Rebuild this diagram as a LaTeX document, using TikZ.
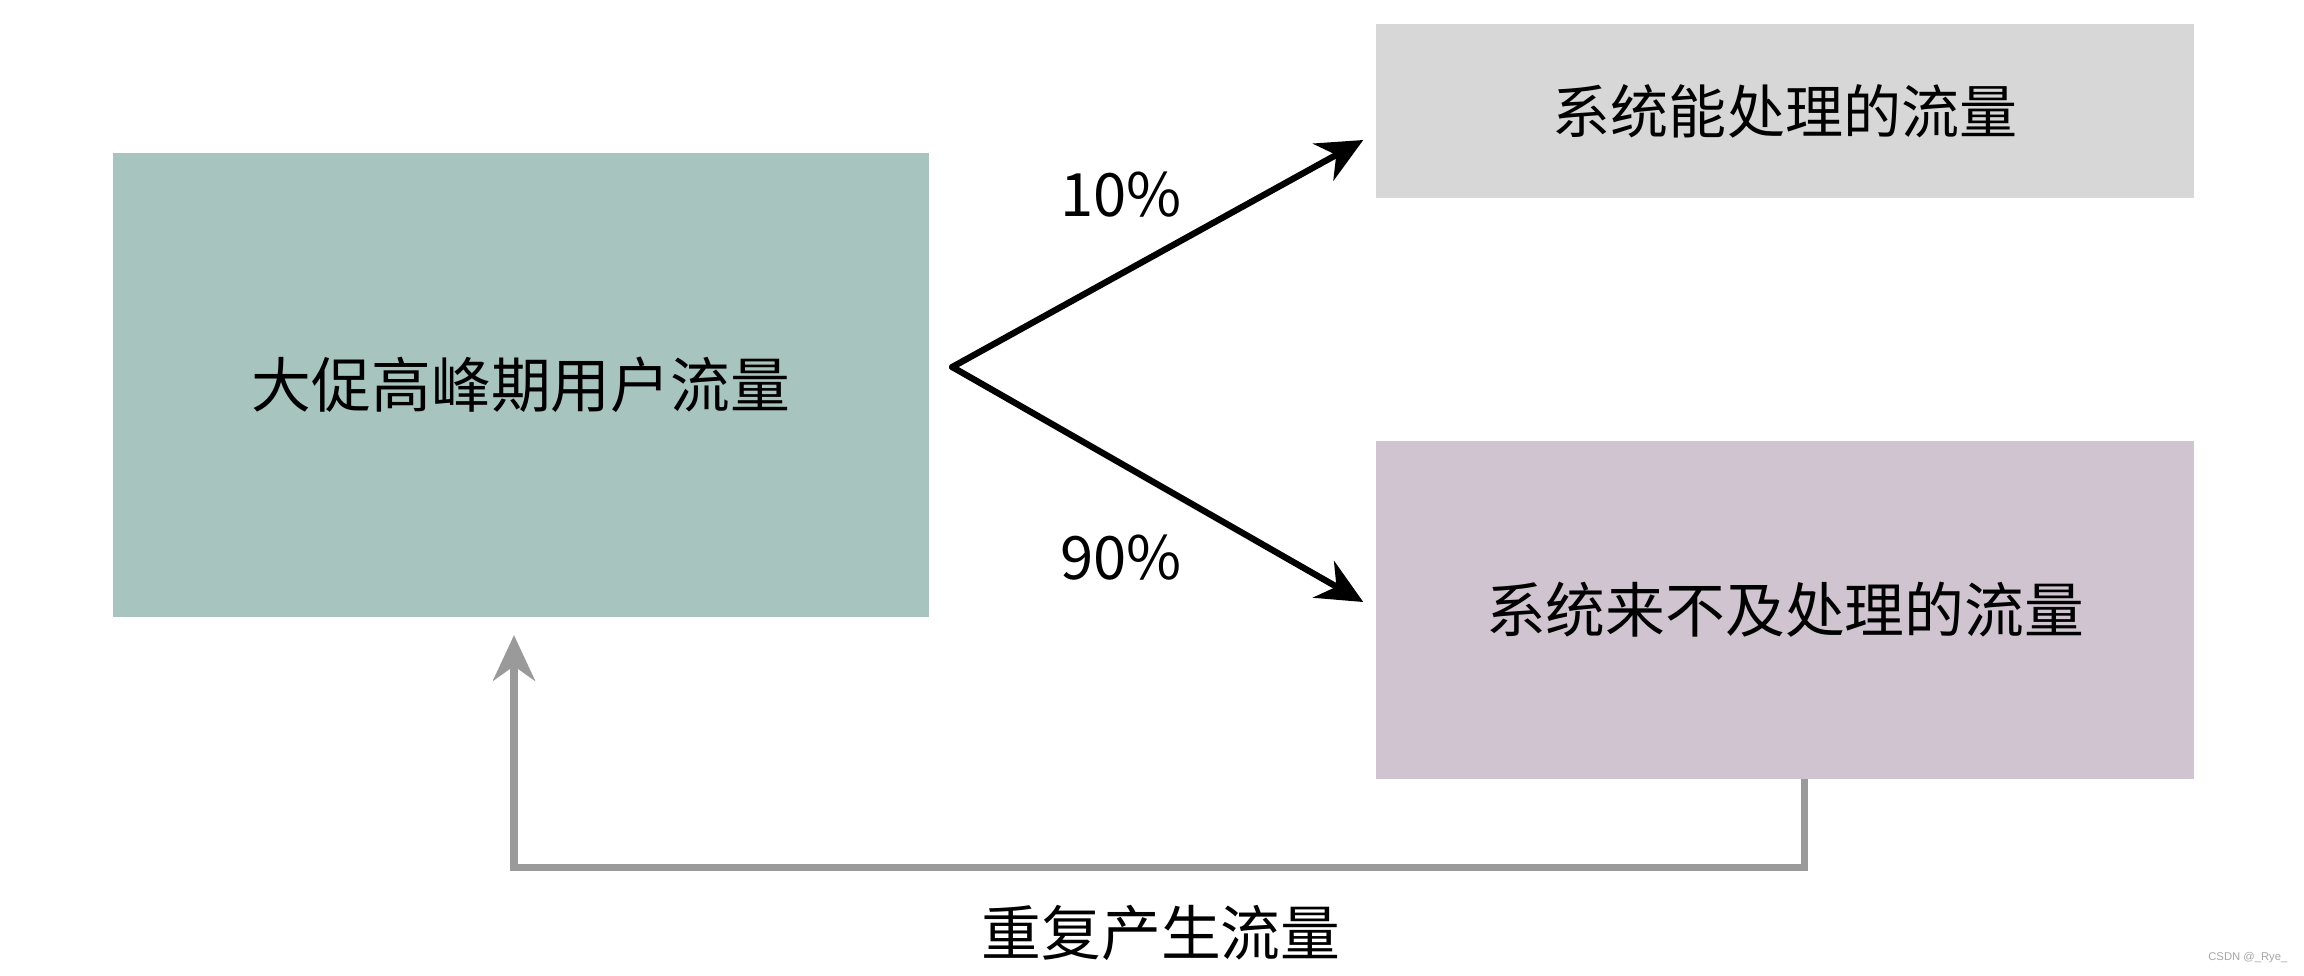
\documentclass[tikz,border=0pt]{standalone}
\usepackage{fontspec}
\setmainfont{Noto Sans CJK SC}
\newfontfamily\wmfont{Liberation Sans}
\usetikzlibrary{arrows.meta,calc}
\definecolor{boxA}{HTML}{A8C4BF}
\definecolor{boxB}{HTML}{D8D7D8}
\definecolor{boxC}{HTML}{D0C4D1}
\definecolor{fbgray}{HTML}{9A9A9A}
\tikzset{
  card/.style={inner sep=0pt, outer sep=0pt, draw=none},
  blackarrow/.style={draw=black, line width=1.8pt, line cap=round,
    -{Stealth[length=13pt,width=12pt]}},
  grayarrow/.style={draw=fbgray, line width=2pt,
    -{Stealth[length=13pt,width=12pt]}},
  lbl/.style={inner sep=0pt, font=\fontsize{17}{20}\selectfont},
}
\begin{document}
\begin{tikzpicture}[x=0.01cm,y=-0.01cm]
\useasboundingbox (0,0) rectangle (2304,975);
\fill[white] (0,0) rectangle (2304,975);

\node[card, fill=boxA, minimum width=8.16cm, minimum height=4.64cm,
  font=\fontsize{17}{20}\selectfont] (A) at (521,385) {大促高峰期用户流量};
\node[card, fill=boxB, minimum width=8.17cm, minimum height=1.73cm,
  font=\fontsize{16.5}{20}\selectfont] (B) at (1785,111) {系统能处理的流量};
\node[card, fill=boxC, minimum width=8.17cm, minimum height=3.38cm,
  font=\fontsize{17}{20}\selectfont] (C) at (1785,610) {系统来不及处理的流量};

\coordinate (O) at ($(A.east)+(23,-18)$);
\coordinate (T1) at ($(B.west)+(-13,29)$);
\coordinate (T2) at ($(C.west)+(-13,-8)$);
\draw[blackarrow] (O) -- (T1);
\draw[blackarrow] (O) -- (T2);

\node[lbl] (p10) at (1121,195) {10\%};
\node[lbl] (p90) at (1121,558) {90\%};

\coordinate (F1) at ($(C.south)+(19,0)$);
\coordinate (F2) at ($(A.south)+(-7,18)$);
\draw[grayarrow] (F1) -- ++(0,88) -| (F2);

\node[lbl] (rep) at (1161,933) {重复产生流量};

\node[inner sep=0pt, anchor=east, text=gray!70, font=\wmfont\fontsize{3.2}{4}\selectfont] (wm) at (2288,958) {CSDN @\_Rye\_};
\end{tikzpicture}
\end{document}
